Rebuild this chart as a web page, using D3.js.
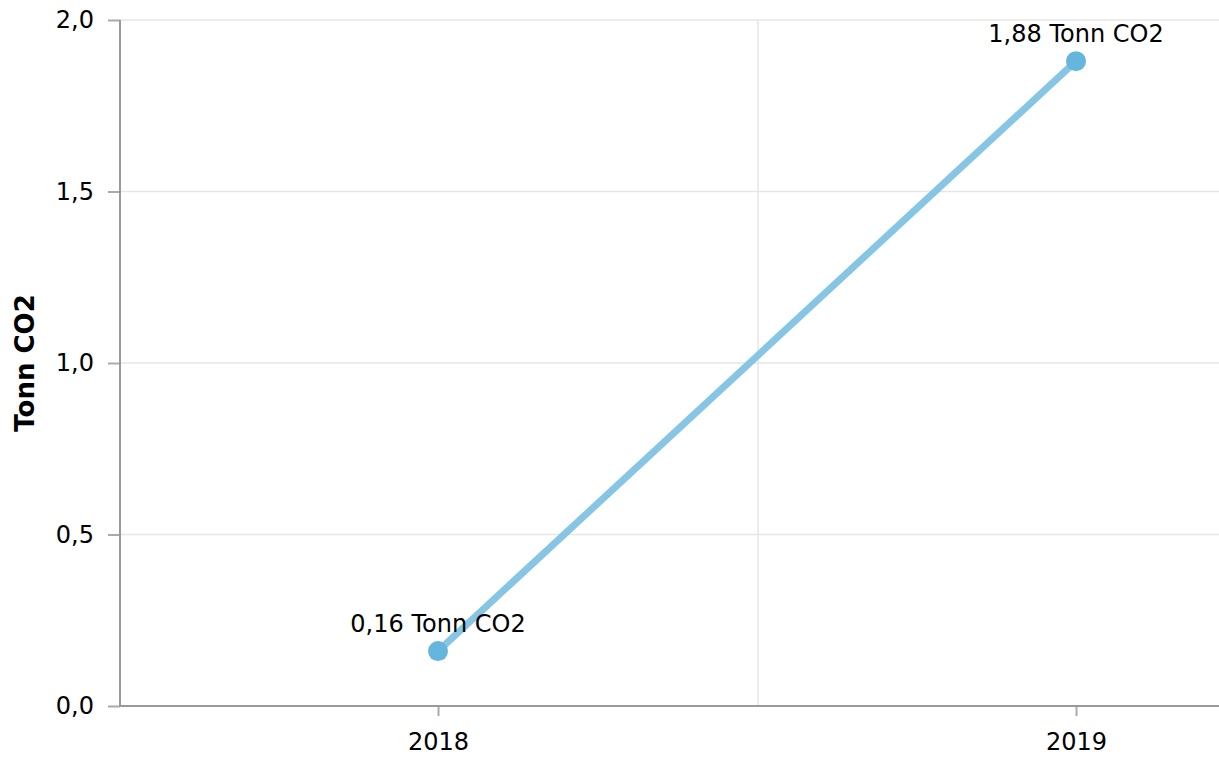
<!DOCTYPE html>
<html>
<head>
<meta charset="utf-8">
<script src="https://cdn.jsdelivr.net/npm/d3@7"></script>
<style>
  body { margin: 0; background: #fff; }
  svg { display: block; font-family: "DejaVu Sans", Verdana, sans-serif; }
</style>
</head>
<body>
<div id="chart"></div>
<script>
// data
var years = ["2018", "2019"];
var values = [0.16, 1.88];
var yTicks = [0, 0.5, 1.0, 1.5, 2.0];
var unit = "Tonn CO2";

var svgWidth = 1219;
var svgHeight = 760;

var margin = { top: 20, left: 120, bottom: 54 };
var plotBottom = svgHeight - margin.bottom;

var svg = d3.select("#chart")
  .append("svg")
  .attr("width", svgWidth)
  .attr("height", svgHeight);

// x: point scale, the right half of the last band runs off the page
var xScale = d3.scalePoint()
  .domain(years)
  .range([119, 1395])
  .padding(0.5);

var yScale = d3.scaleLinear()
  .domain([0, 2])
  .range([plotBottom, margin.top]);

var comma = d3.formatLocale({ decimal: ",", thousands: " ", grouping: [3], currency: ["", ""] });
var fmt1 = comma.format(".1f");
var fmt2 = comma.format(".2f");

// horizontal grid
svg.append("g")
  .selectAll("line")
  .data(yTicks.filter(d => d > 0))
  .enter().append("line")
  .attr("x1", margin.left)
  .attr("x2", svgWidth)
  .attr("y1", d => yScale(d))
  .attr("y2", d => yScale(d))
  .attr("stroke", "#e6e6e6")
  .attr("stroke-width", 1.5);

// vertical grid between categories
var step = xScale.step();
svg.append("g")
  .selectAll("line")
  .data(years.slice(1))
  .enter().append("line")
  .attr("x1", d => xScale(d) - step / 2 + 1)
  .attr("x2", d => xScale(d) - step / 2 + 1)
  .attr("y1", margin.top)
  .attr("y2", plotBottom)
  .attr("stroke", "#e6e6e6")
  .attr("stroke-width", 1.5);

// y axis
var yAxis = d3.axisLeft(yScale)
  .tickValues(yTicks)
  .tickFormat(fmt1)
  .tickSize(12)
  .tickPadding(14);

var yG = svg.append("g")
  .attr("transform", `translate(${margin.left},0)`)
  .call(yAxis);
yG.select(".domain").remove();
yG.append("line")
  .attr("x1", 0).attr("x2", 0)
  .attr("y1", margin.top).attr("y2", plotBottom)
  .attr("stroke", "#999").attr("stroke-width", 2);
yG.selectAll(".tick line").attr("stroke", "#aaa").attr("stroke-width", 2);
yG.selectAll(".tick text")
  .attr("fill", "#000")
  .style("font-size", "24px")
  .style("font-family", "DejaVu Sans, Verdana, sans-serif");

// x axis
var xAxis = d3.axisBottom(xScale)
  .tickSize(10)
  .tickPadding(17);

var xG = svg.append("g")
  .attr("transform", `translate(0,${plotBottom})`)
  .call(xAxis);
xG.select(".domain").remove();
xG.append("line")
  .attr("x1", margin.left).attr("x2", svgWidth)
  .attr("y1", 0).attr("y2", 0)
  .attr("stroke", "#999").attr("stroke-width", 2);
xG.selectAll(".tick line").attr("stroke", "#aaa").attr("stroke-width", 2);
xG.selectAll(".tick text")
  .attr("fill", "#000")
  .style("font-size", "24px")
  .style("font-family", "DejaVu Sans, Verdana, sans-serif");

// y axis title
svg.append("text")
  .attr("transform", `translate(34, ${(margin.top + plotBottom) / 2}) rotate(-90)`)
  .attr("text-anchor", "middle")
  .style("font-size", "26px")
  .style("font-weight", "bold")
  .text(unit);

// line
var line = d3.line()
  .x((d, i) => xScale(years[i]))
  .y(d => yScale(d));

svg.append("path")
  .datum(values)
  .attr("d", line)
  .attr("fill", "none")
  .attr("stroke", "#86c5e3")
  .attr("stroke-width", 7);

// points
svg.append("g")
  .selectAll("circle")
  .data(values)
  .enter().append("circle")
  .attr("cx", (d, i) => xScale(years[i]))
  .attr("cy", d => yScale(d))
  .attr("r", 10)
  .attr("fill", "#65b6dc");

// value labels
svg.append("g")
  .selectAll("text")
  .data(values)
  .enter().append("text")
  .attr("x", (d, i) => xScale(years[i]))
  .attr("y", d => yScale(d) - 19)
  .attr("text-anchor", "middle")
  .style("font-size", "24px")
  .text(d => `${fmt2(d)} ${unit}`);
</script>
</body>
</html>
